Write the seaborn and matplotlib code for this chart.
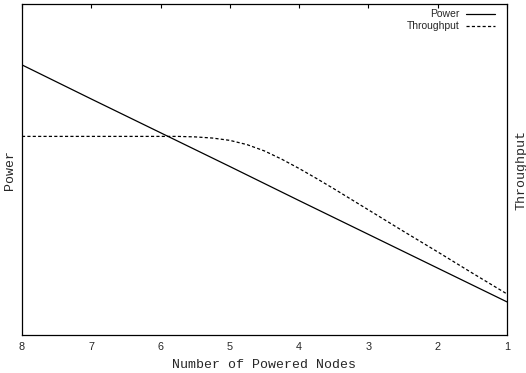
import matplotlib
matplotlib.use("Agg")
import matplotlib.pyplot as plt
import seaborn as sns
import pandas as pd

# Data (arbitrary units)
power_nodes = [8, 7, 6, 5, 4, 3, 2, 1]
power_vals = [81.6, 71.3, 61.1, 50.9, 40.6, 30.4, 20.2, 10.0]

thr_nodes = [8, 7, 6, 5.75, 5.5, 5.25, 5.0, 4.75, 4.5, 4.25, 4.0, 3.75, 3.5,
             3.0, 2.5, 2.0, 1.5, 1.0]
thr_vals = [60.0, 60.0, 60.0, 60.0, 59.85, 59.5, 58.8, 57.5, 55.6, 53.1, 50.3,
            47.3, 44.2, 37.8, 31.4, 25.1, 18.7, 12.4]

xticks = [8, 7, 6, 5, 4, 3, 2, 1]

sns.set_style("white")
plt.rcParams["font.family"] = ["Liberation Sans", "DejaVu Sans"]

df_p = pd.DataFrame({"nodes": power_nodes, "value": power_vals})
df_t = pd.DataFrame({"nodes": thr_nodes, "value": thr_vals})

fig = plt.figure(figsize=(5.26, 3.73), dpi=100)
ax = fig.add_axes([22 / 526, 38 / 373, 485 / 526, 331 / 373])

sns.lineplot(data=df_p, x="nodes", y="value", ax=ax, color="black",
             linewidth=0.9, label="Power", sort=False)
sns.lineplot(data=df_t, x="nodes", y="value", ax=ax, color="black",
             linewidth=0.9, linestyle=(0, (2.5, 1.8)), label="Throughput", sort=False)

ax.set_xlim(8, 1)
ax.set_ylim(0, 100)
ax.set_xticks(xticks)
ax.set_xticklabels([str(v) for v in xticks])
ax.set_yticks([])
ax.tick_params(axis="x", direction="in", length=3, width=0.8, top=True,
               labelsize=7.8, pad=5, color="black")
for s in ax.spines.values():
    s.set_color("black")
    s.set_linewidth(0.9)

mono = "Liberation Mono"
ax.set_xlabel("Number of Powered Nodes", family=mono, fontsize=9.5, labelpad=5)
ax.set_ylabel("Power", family=mono, fontsize=9.5, labelpad=4)

ax2 = ax.twinx()
ax2.set_yticks([])
ax2.set_ylabel("Throughput", family=mono, fontsize=9.5, labelpad=6, rotation=90)
for s in ax2.spines.values():
    s.set_visible(False)

leg = ax.legend(loc="upper right", bbox_to_anchor=(0.975, 0.984), frameon=False,
                fontsize=7.5, markerfirst=False, handlelength=2.8,
                handletextpad=0.6, labelspacing=0.2, borderaxespad=0.0,
                borderpad=0.0)

fig.savefig("out.png", dpi=100)
